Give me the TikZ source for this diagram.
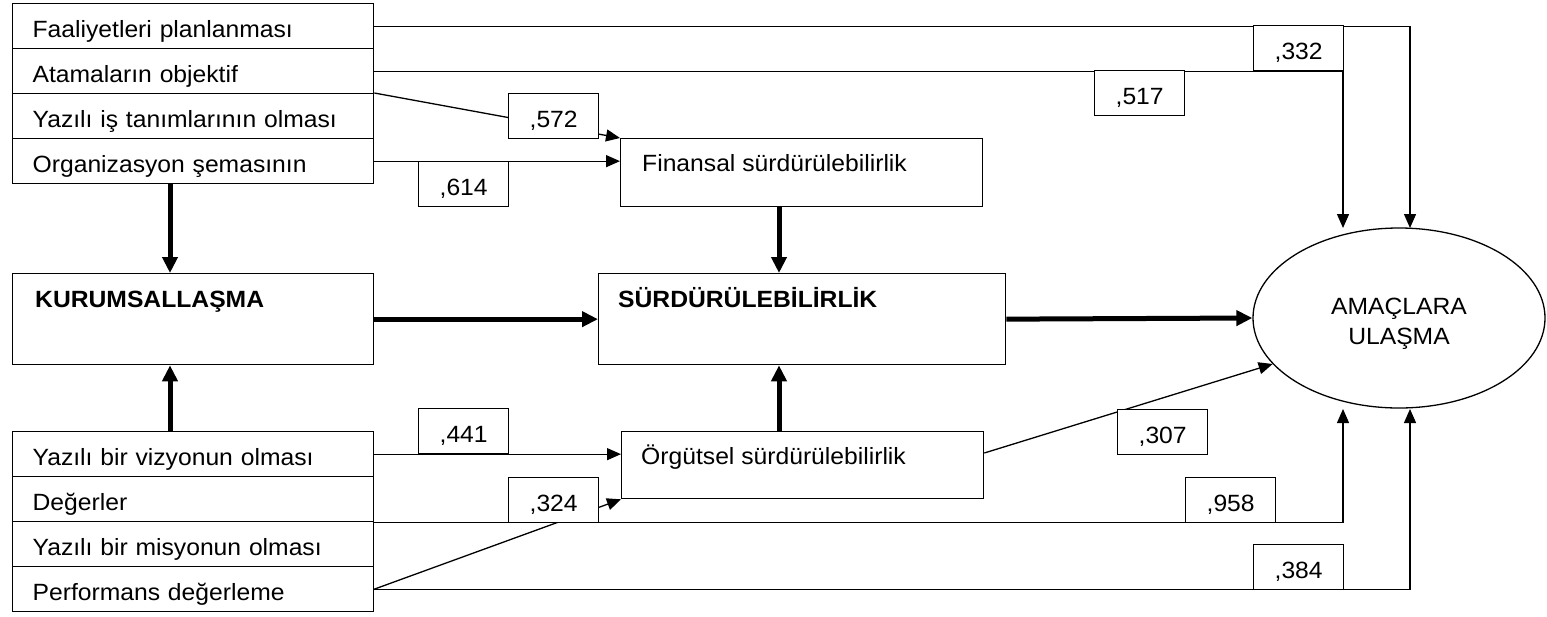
\documentclass[tikz,border=0pt]{standalone}
\usepackage{fontspec}
\setmainfont{Liberation Sans}[FakeStretch=1.05]
\usetikzlibrary{arrows.meta,shapes.geometric,calc}
\begin{document}
\begin{tikzpicture}[x=1pt,y=-1pt,
  every node/.style={font=\fontsize{23.5}{28}\selectfont},
  row/.style={draw, line width=1.3pt, rectangle, anchor=north west, minimum height=45pt,
    text width=321pt, inner xsep=20pt, inner ysep=0pt, align=left, text height=25pt, text depth=2pt},
  lbl/.style={draw, line width=1.3pt, fill=white, rectangle, anchor=north west, minimum width=90pt,
    minimum height=45pt, inner sep=0pt, text height=25pt, text depth=2pt},
  bigbox/.style={draw, line width=1.3pt, rectangle, anchor=north west, inner sep=0pt},
  txt/.style={anchor=base west, inner sep=0pt},
  tarrow/.style={line width=1.3pt, -{Triangle[length=14pt,width=12pt]}},
  Tarrow/.style={line width=5pt, -{Triangle[length=16pt,width=15pt]}}]
\useasboundingbox[fill=white] (0,0) rectangle (1547,616);

% left stacks
\node[row] (r1) at (12,3) {Faaliyetleri planlanması};
\node[row] (r2) at (12,48) {Atamaların objektif};
\node[row] (r3) at (12,93) {Yazılı iş tanımlarının olması};
\node[row] (r4) at (12,138) {Organizasyon şemasının};
\node[row] (r5) at (12,431) {Yazılı bir vizyonun olması};
\node[row] (r6) at (12,476) {Değerler};
\node[row] (r7) at (12,521) {Yazılı bir misyonun olması};
\node[row] (r8) at (12,566) {Performans değerleme};

% main boxes
\node[bigbox, minimum width=361pt, minimum height=91pt] (K) at (12,273) {};
\node[txt] (Kt) at ($(K.north west)+(23,34)$) {\bfseries KURUMSALLAŞMA};
\node[bigbox, minimum width=407pt, minimum height=91pt] (S) at (598,273) {};
\node[txt] (St) at ($(S.north west)+(20,34)$) {\bfseries SÜRDÜRÜLEBİLİRLİK};
\node[bigbox, minimum width=362pt, minimum height=68pt] (F) at (620,138) {};
\node[txt] (Ft) at ($(F.north west)+(22,33)$) {Finansal sürdürülebilirlik};
\node[bigbox, minimum width=362pt, minimum height=67pt] (O) at (621,431) {};
\node[txt] (Ot) at ($(O.north west)+(20,33)$) {Örgütsel sürdürülebilirlik};

\node[draw, ellipse, line width=1.3pt, minimum width=292pt, minimum height=180pt, inner sep=0pt] (A) at (1399,318) {};
\node[anchor=base, inner sep=0pt] (A1) at (1399,314) {AMAÇLARA};
\node[anchor=base, inner sep=0pt] (A2) at (1399,344) {ULAŞMA};

% free ends at the ellipse
\coordinate (topL) at (1343,228);
\coordinate (topR) at (1410,228);
\coordinate (botL) at (1343,409);
\coordinate (botR) at (1410,409);

% thin connectors
\draw[tarrow] (r1.east) -| (topR);
\draw[tarrow] (r2.east) -| (topL);
\draw[tarrow] (r3.north east) -- (F.north west);
\draw[tarrow] (r4.east) -- (r4.east -| F.west);
\draw[tarrow] (r5.east) -- (r5.east -| O.west);
\draw[tarrow] (r6.south east) -| (botL);
\draw[tarrow] (r8.east) -| (botR);
\draw[tarrow] (r8.east) -- (O.south west);
\draw[tarrow] ($(O.north east)+(0,22)$) -- (A.200);

% thick connectors
\coordinate (fx) at ($(F.south west)+(159,0)$);
\draw[Tarrow] (fx) -- (fx |- S.north);
\coordinate (ox) at ($(O.north west)+(158,0)$);
\draw[Tarrow] (ox) -- (ox |- S.south);
\draw[Tarrow] (K.east) -- (S.west);
\draw[Tarrow] (S.east) -- (A.west);
\coordinate (kx) at ($(r4.south west)+(158,0)$);
\draw[Tarrow] (kx) -- (kx |- K.north);
\coordinate (kx2) at ($(r5.north west)+(158,0)$);
\draw[Tarrow] (kx2) -- (kx2 |- K.south);

% coefficient labels
\node[lbl] (L572) at (508,93) {,572};
\node[lbl] (L614) at (418,161) {,614};
\node[lbl] (L332) at (1253,25) {,332};
\node[lbl] (L517) at (1094,70) {,517};
\node[lbl] (L441) at (418,408) {,441};
\node[lbl] (L324) at (508,477) {,324};
\node[lbl] (L307) at (1117,409) {,307};
\node[lbl] (L958) at (1185,477) {,958};
\node[lbl] (L384) at (1253,544) {,384};
\end{tikzpicture}
\end{document}
